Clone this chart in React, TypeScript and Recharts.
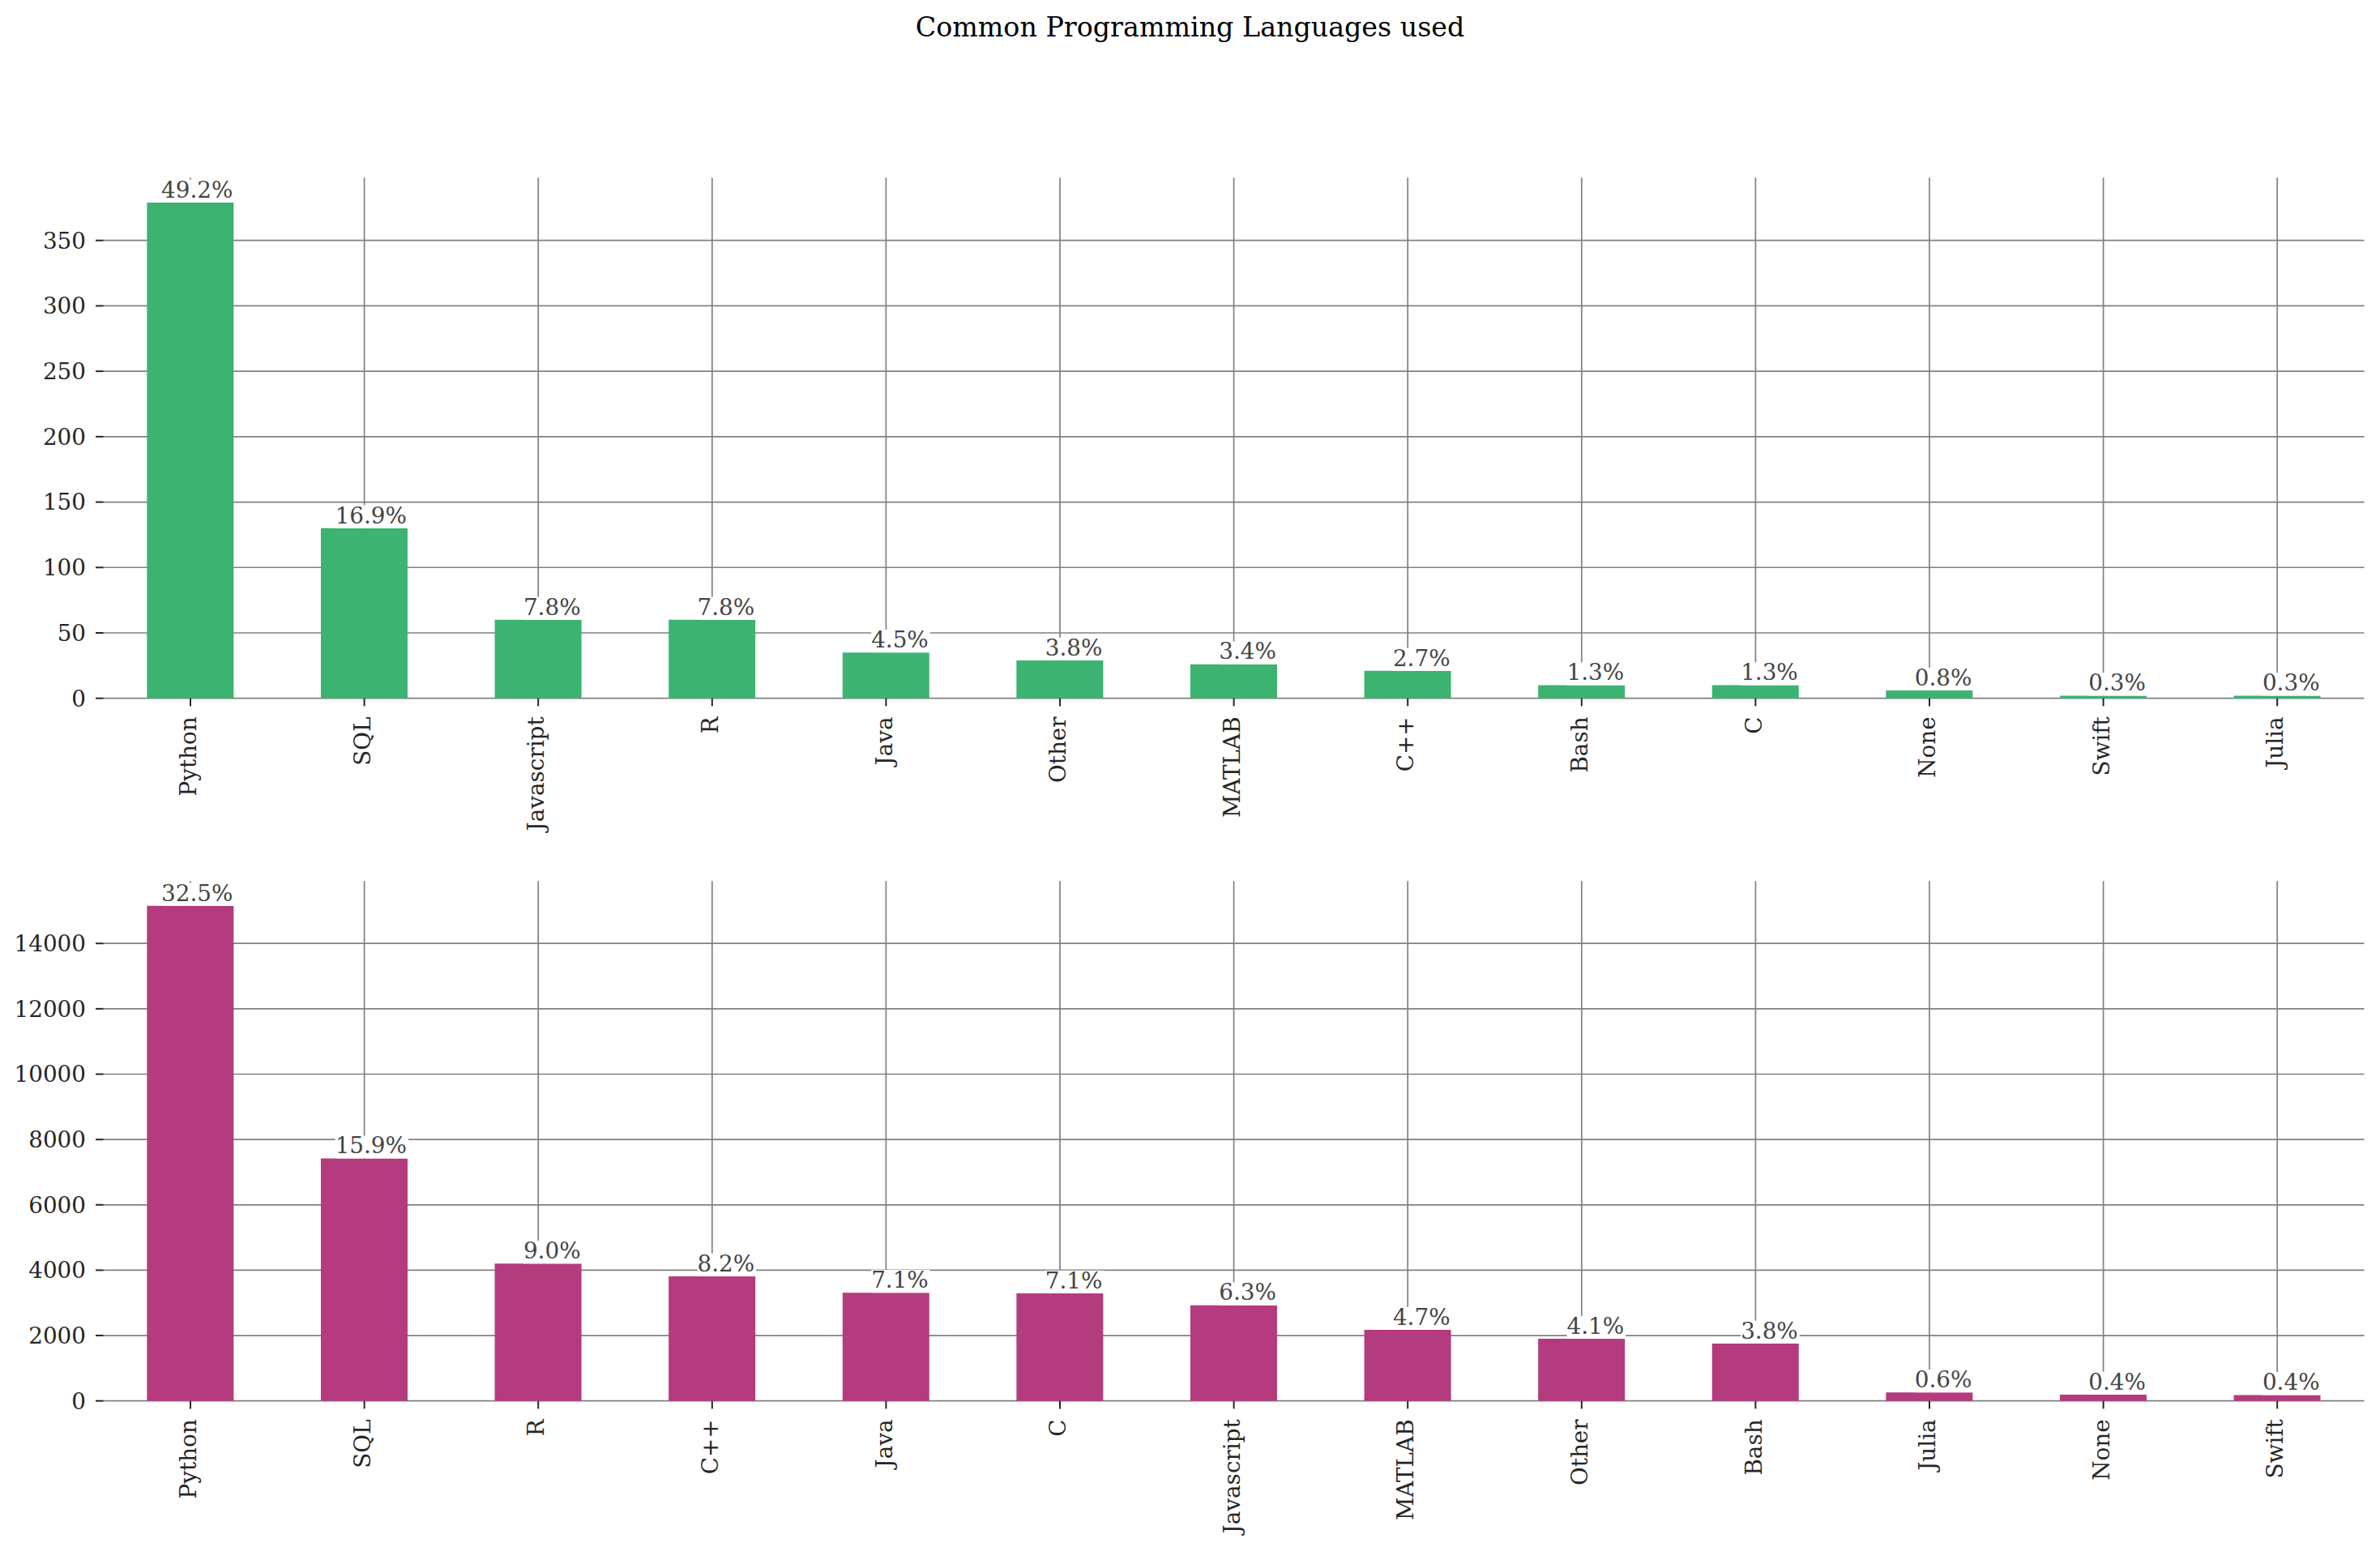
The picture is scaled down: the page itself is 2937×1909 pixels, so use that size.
import React from 'react';
import { BarChart, Bar, XAxis, YAxis, CartesianGrid, LabelList } from 'recharts';

// ---- data ----
const topLanguages = ['Python', 'SQL', 'Javascript', 'R', 'Java', 'Other', 'MATLAB', 'C++', 'Bash', 'C', 'None', 'Swift', 'Julia'];
const topCounts = [379, 130, 60, 60, 35, 29, 26, 21, 10, 10, 6, 2, 2];
const topTicks = [0, 50, 100, 150, 200, 250, 300, 350];

const bottomLanguages = ['Python', 'SQL', 'R', 'C++', 'Java', 'C', 'Javascript', 'MATLAB', 'Other', 'Bash', 'Julia', 'None', 'Swift'];
const bottomCounts = [15150, 7420, 4200, 3810, 3310, 3290, 2925, 2175, 1900, 1755, 260, 190, 180];
const bottomTicks = [0, 2000, 4000, 6000, 8000, 10000, 12000, 14000];

const titleText = 'Common Programming Languages used';

// ---- style ----
const FONT = '"DejaVu Serif", serif';
const FS = 27.8;
const GREEN = '#3cb371';
const PINK = '#b33b7e';
const GRID = '#808080';
const DARK = '#262626';
const LABEL = '#444444';

const W = 2937;

const buildRows = (langs: string[], counts: number[]) => {
  const total = counts.reduce((a, b) => a + b, 0);
  return langs.map((lang, i) => ({
    lang,
    count: counts[i],
    pct: ((counts[i] / total) * 100).toFixed(1) + '%',
  }));
};

const charW = (s: string) => {
  let w = 0;
  for (const c of s) {
    if (c === '.') w += 0.318;
    else if (c === '%') w += 0.95;
    else w += 0.636;
  }
  return w;
};

const PctLabel = (props: any) => {
  const { x, y, width, value } = props;
  const right = Number(x) + Number(width);
  const top = Number(y);
  const base = top - 6.3;
  const w = charW(String(value)) * FS;
  const boxTop = base - 0.79 * FS;
  return (
    <g>
      <rect x={right - w - 1} y={boxTop} width={w + 2} height={top - boxTop} fill="#ffffff" />
      <text x={right - 1} y={base} textAnchor="end" fontFamily={FONT} fontSize={FS} fill={LABEL}>
        {value}
      </text>
    </g>
  );
};

const XTick = (props: any) => {
  const { x, y, payload } = props;
  return (
    <text
      x={x}
      y={y}
      transform={`rotate(-90 ${x} ${y})`}
      textAnchor="end"
      dy="0.26em"
      fontFamily={FONT}
      fontSize={FS}
      fill={DARK}
    >
      {payload.value}
    </text>
  );
};

type PanelProps = {
  rows: any[];
  ticks: number[];
  color: string;
  top: number;
  height: number;
  plotHeight: number;
};

const Panel = ({ rows, ticks, color, top, height, plotHeight }: PanelProps) => {
  const maxV = Math.max(...rows.map((r) => r.count));
  const marginTop = 219.3;
  const xAxisHeight = height - marginTop - plotHeight;
  return (
    <div style={{ position: 'absolute', left: 0, top, width: W, height }}>
      <BarChart
        width={W}
        height={height}
        data={rows}
        margin={{ top: marginTop, right: 19.5, bottom: 0, left: 0 }}
        barCategoryGap="25%"
      >
        <CartesianGrid stroke={GRID} strokeWidth={1.7} vertical={true} horizontal={true} syncWithTicks={true} />
        <XAxis
          dataKey="lang"
          type="category"
          interval={0}
          height={xAxisHeight}
          axisLine={false}
          tickLine={{ stroke: DARK, strokeWidth: 2 }}
          tickSize={9.7}
          tickMargin={13}
          tick={<XTick />}
        />
        <YAxis
          type="number"
          width={127.7}
          domain={[0, maxV * 1.05]}
          ticks={ticks}
          interval={0}
          axisLine={false}
          tickLine={{ stroke: DARK, strokeWidth: 2 }}
          tickSize={9.7}
          tickMargin={12}
          tick={{ fontFamily: FONT, fontSize: FS, fill: DARK }}
        />
        <Bar dataKey="count" fill={color} isAnimationActive={false}>
          <LabelList dataKey="pct" content={<PctLabel />} />
        </Bar>
      </BarChart>
    </div>
  );
};

export default function App() {
  const topRows = buildRows(topLanguages, topCounts);
  const bottomRows = buildRows(bottomLanguages, bottomCounts);
  return (
    <div style={{ position: 'absolute', left: 0, top: 0, width: W, height: 1909, background: '#ffffff' }}>
      <svg style={{ position: 'absolute', left: 0, top: 0 }} width={W} height={70}>
        <text x={W / 2} y={45} textAnchor="middle" fontFamily={FONT} fontSize={33.3} fill="#000000">
          {titleText}
        </text>
      </svg>
      <Panel rows={topRows} ticks={topTicks} color={GREEN} top={0} height={1040} plotHeight={642.4} />
      <Panel rows={bottomRows} ticks={bottomTicks} color={PINK} top={868} height={1041} plotHeight={641.4} />
    </div>
  );
}
